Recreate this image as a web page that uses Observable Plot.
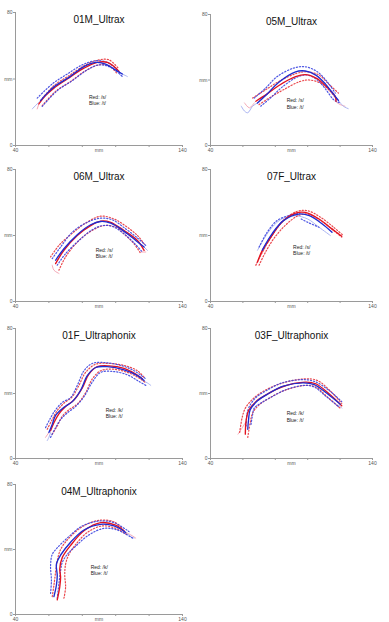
<!DOCTYPE html>
<html>
<head>
<meta charset="utf-8">
<script src="https://cdn.jsdelivr.net/npm/d3@7"></script>
<script src="https://cdn.jsdelivr.net/npm/@observablehq/plot@0.6"></script>
<style>
  html, body { margin: 0; padding: 0; background: #fff; }
  #wrap { position: relative; width: 389px; height: 622px; overflow: hidden; background: #fff; }
  #wrap > svg { position: absolute; }
</style>
</head>
<body>
<div id="wrap"></div>
<script>
// ---------- DATA ----------
const titles = ["01M_Ultrax", "05M_Ultrax", "06M_Ultrax", "07F_Ultrax", "01F_Ultraphonix", "03F_Ultraphonix", "04M_Ultraphonix"];
const legendRed = ["Red: /s/", "Red: /s/", "Red: /s/", "Red: /s/", "Red: /k/", "Red: /k/", "Red: /k/"];
const legendBlue = ["Blue: /t/", "Blue: /t/", "Blue: /t/", "Blue: /t/", "Blue: /t/", "Blue: /t/", "Blue: /t/"];
const legendX = [84, 87, 88, 91, 94, 87, 85];
const legendY = [29, 27.5, 31.3, 33, 29.6, 27.6, 29];
const xTicks = [40, 60, 80, 100, 120, 140];
const yTicks = [0, 40, 80];

// Panel 1: 01M_Ultrax
const p1RedMean = [[54,25],[58,30],[63,34.5],[71,40],[81,46.5],[89,50],[95,50],[99,47.5],[102,44.5]];
const p1RedUp   = [[55,27],[63,36],[72,42],[82,48.5],[90,51.5],[96,51.5],[102,46]];
const p1RedLo   = [[56,24],[64,32.5],[73,38.5],[82,45],[90,48.5],[96,48],[101,43]];
const p1BlueMean= [[55,27],[59,31.5],[64,36],[72,41],[81,47.5],[88,50],[94,49],[99,46],[104,43]];
const p1BlueUp  = [[53,28.5],[62,37],[71,43],[80,48.5],[88,51],[95,50],[101,45.5]];
const p1BlueLo  = [[56,23.5],[65,33],[74,39],[83,45.5],[90,48.5],[97,47],[104,41.5]];
const p1FaintRed = [[53,22,0],[54,25,0]];
const p1FaintBlue = [[50,22,0],[53,25,0],[55,27,0],[102,44,1],[105,42.5,1],[107,41.5,1]];

// Panel 2: 05M_Ultrax
const p2RedMean = [[68,27],[75,31.5],[82,36.5],[92.5,42],[98.5,43.3],[105.5,41],[111.5,36],[117,30],[117.5,27]];
const p2RedUp   = [[66,29],[74,34],[82,39],[93,44],[100,45],[107,43],[113,37.5],[119,32]];
const p2RedLo   = [[70,25],[77,29.5],[85,34],[95,39],[101,40],[108,38],[114,33],[118,28]];
const p2BlueMean= [[69,26],[75,31.5],[82,38.5],[92.5,45],[98.5,45.5],[105,43],[111,37.5],[115,32.5],[119,27.5]];
const p2BlueUp  = [[67,29],[74,35],[81,42],[92,47.5],[99,48],[106,45],[112,39],[117,32]];
const p2BlueLo  = [[71,24],[77,29],[84,35.5],[94,42],[100,43],[106,40],[111,34.5],[116,28],[120,26]];
const p2FaintRed = [[61,26,0],[64,23,0],[67,26,0],[117,27,1],[120,25,1],[123,24,1]];
const p2FaintBlue = [[59,24,0],[61,21,0],[63,20,0],[66,24,0],[69,26,0],[119,27.5,1],[122,24,1],[125,22.5,1]];

// Panel 3: 06M_Ultrax
const p3RedMean = [[64,23],[69,31],[77,40],[85,46],[91,48.7],[97,48],[105,43],[113,37],[117,31]];
const p3RedUp   = [[61,27],[66,34],[73,40.5],[82,47.5],[91,51.7],[99,50],[107,45],[113,40],[117,35]];
const p3RedLo   = [[66,19],[70,27],[77,36],[85,42.5],[93,46],[100,45],[106,40],[111,35],[115,29]];
const p3BlueMean= [[64,25],[69,32],[77,40.5],[85,46.5],[91,48.5],[97,47.5],[105,42.5],[112,37],[117,33]];
const p3BlueUp  = [[62,26],[67,33],[74,42],[83,48],[91,50.5],[98,49.5],[106,44],[113,38.5],[118,34]];
const p3BlueLo  = [[65,22],[70,29],[78,37],[86,43.5],[92,46],[98,45.5],[105,41],[111,35.5],[116,30]];
const p3FaintRed = [[62,22,0],[63,19,0],[66,17,0],[115,30,1],[118,30,1]];
const p3FaintBlue = [[117,33,0],[119,31,0]];

// Panel 4: 07F_Ultrax
const p4RedMean = [[69,24],[72,31],[76,37],[84,48],[92.5,53.5],[98.5,54],[107,50],[115,44],[121,39.5]];
const p4RedUp   = [[68,22],[72,30],[78,40],[85,49],[93,54.5],[100,55],[108,51],[116,45],[122,40]];
const p4RedLo   = [[70,22],[74,30],[79,38],[86,46],[94,52],[100,53],[108,49],[116,43],[121,39]];
const p4BlueMean= [[72,31],[73,33],[78,41],[85,49],[94.5,53],[101,52],[109,47],[115,42]];
const p4BlueUp  = [[70,33],[75,42],[81,49],[88,52],[95,53.5]];
const p4BlueLo  = [[96,50],[100,48],[107,45]];
const p4FaintRed = [[68,22,0],[70,26,0],[74,33,0]];
const p4FaintBlue = [[69,31,0],[73,38,0],[78,45,0],[84,50,0],[92,52,0],[100,50,0],[107,45,0],[114,40,0]];

// Panel 5: 01F_Ultraphonix
const p5RedMean = [[61,17],[63,22],[66,27.5],[70,32],[75,36],[80,43.5],[84,52],[89,56.5],[96,57],[105,55.5],[112,52],[116,49]];
const p5RedUp   = [[59,18],[62,24],[65,29.5],[69,34],[74,38],[78,45],[82,53],[88,58],[96,58.5],[106,57],[113,54],[117,50]];
const p5RedLo   = [[62,15],[65,20],[68,26],[72,30],[77,33.5],[82,40.5],[86,49],[91,54],[98,55],[107,53],[114,49.5],[118,46.5]];
const p5BlueMean= [[60,16],[62,21],[64,26.5],[69,31.5],[74,35],[79,42],[83,51],[88,56],[95,56.5],[105,54.5],[113,51],[117,48]];
const p5BlueUp  = [[58,19],[61,25],[64,30],[68,34.5],[73,37.5],[77,45],[81,54],[86,58.5],[94,59],[104,57],[111,54],[118,49]];
const p5BlueLo  = [[61,13],[64,19],[67,24],[71,28],[76,32],[81,38],[86,47],[91,53],[99,53.5],[107,51.5],[113,48],[118,45]];
const p5FaintRed = [[58,13,0],[60,16,0]];
const p5FaintBlue = [[59,11,0],[60,13,0],[61,16,0],[116,48,1],[119,46.5,1],[121,45,1]];

// Panel 6: 03F_Ultraphonix
const p6RedMean = [[61.5,15],[62,23.5],[63.5,29.5],[68,35],[74,39],[84,44],[98.5,47],[105,46],[113,40],[121,32.5]];
const p6RedUp   = [[58,16],[59.5,25],[61.5,31],[66,36.5],[72,41],[83,46],[98,49],[106,48],[114,41.5],[121,34]];
const p6RedLo   = [[63,13],[64.5,22],[66,28],[70,33],[76,37],[86,42],[99,45],[105,44],[112,38],[120,31]];
const p6BlueMean= [[63,18],[63.5,24],[64.5,30],[69,35.5],[75,39.5],[85,44.5],[97,46.5],[104,45.5],[112,40],[120,33.5]];
const p6BlueUp  = [[62,20],[62.5,27],[64,32],[68,37.5],[74,41.5],[84,46.5],[96,48.5],[104,47.5],[113,42],[121,35]];
const p6BlueLo  = [[65,21],[66,27],[67,31],[71,34],[77,37.5],[87,42.5],[98,45],[104,44],[111,38.5],[119,32]];
const p6FaintRed = [[57,15,0],[59,18,0],[61.5,22,0]];
const p6FaintBlue = [[119,33,0],[121,31,0]];

// Panel 7: 04M_Ultraphonix
const p7RedMean = [[65,9],[66.5,17],[67,23],[66.5,28],[68,35],[73,42.5],[81,51.5],[91,56.5],[100,55],[105,51.5]];
const p7RedUp   = [[69,10],[70,17],[69.5,24],[70,31],[72,37],[76,43],[83,50.5],[92,54.5],[100,53],[107,49]];
const p7RedLo   = [[62,11],[63,18],[64,26],[65,33],[67,40],[72,47],[80,54],[90,58],[99,57],[104,53]];
const p7BlueMean= [[63,11],[64.5,18],[65,24],[64.5,31],[67,36.5],[73,44.5],[81,52],[91,55.5],[99,54.5],[106,50.5]];
const p7BlueUp  = [[61,13],[61.5,21],[61,30],[62,37],[65,41],[72,48],[80,54.5],[90,57.5],[99,56.5],[108,51]];
const p7BlueLo  = [[65,10],[66,19],[67,27],[68,32],[71,37],[76,42],[84,49],[93,53],[101,52],[110,47]];
const p7FaintRed = [[105,51,0],[109,49,0],[112,47,0]];
const p7FaintBlue = [[67,37,0],[70,41,0],[74,46,0],[106,50.5,1],[109,48,1],[111,47,1]];

// ---------- ASSEMBLY ----------
const curves = [
  [p1RedMean,p1RedUp,p1RedLo,p1BlueMean,p1BlueUp,p1BlueLo,p1FaintRed,p1FaintBlue],
  [p2RedMean,p2RedUp,p2RedLo,p2BlueMean,p2BlueUp,p2BlueLo,p2FaintRed,p2FaintBlue],
  [p3RedMean,p3RedUp,p3RedLo,p3BlueMean,p3BlueUp,p3BlueLo,p3FaintRed,p3FaintBlue],
  [p4RedMean,p4RedUp,p4RedLo,p4BlueMean,p4BlueUp,p4BlueLo,p4FaintRed,p4FaintBlue],
  [p5RedMean,p5RedUp,p5RedLo,p5BlueMean,p5BlueUp,p5BlueLo,p5FaintRed,p5FaintBlue],
  [p6RedMean,p6RedUp,p6RedLo,p6BlueMean,p6BlueUp,p6BlueLo,p6FaintRed,p6FaintBlue],
  [p7RedMean,p7RedUp,p7RedLo,p7BlueMean,p7BlueUp,p7BlueLo,p7FaintRed,p7FaintBlue]
];

// layout: [left, top, width, height, marginTop, marginBottom]
const layout = [
  [0,   0,   190, 155, 12, 10],
  [195, 0,   185, 155, 14, 10],
  [0,   157, 190, 154, 12, 10],
  [195, 157, 185, 154, 12, 10],
  [0,   316, 190, 152, 12, 10],
  [195, 316, 185, 152, 12, 10],
  [0,   471, 190, 151, 13, 8]
];

const RED = "#e3121f", BLUE = "#1f2bd0";
const RED_DOT = "#e8343a", BLUE_DOT = "#3a44e0";
const RED_FAINT = "#f5aab8", BLUE_FAINT = "#aab4f2";
const wrap = document.getElementById("wrap");

const P = d => d[0], Q = d => d[1];

curves.forEach((c, i) => {
  const [rm, ru, rl, bm, bu, bl, fr, fb] = c;
  const [left, top, w, h, mt, mb] = layout[i];
  const dot = {x: P, y: Q, strokeWidth: 1.2, strokeDasharray: "1.2,1.9", strokeOpacity: 0.9, curve: "catmull-rom"};
  const chart = Plot.plot({
    width: w, height: h,
    marginLeft: 15, marginRight: 8, marginTop: mt, marginBottom: mb,
    x: {domain: [40, 140]},
    y: {domain: [0, 80]},
    style: {fontFamily: "Liberation Sans, Arial, sans-serif", fontSize: "5px", background: "transparent", color: "#555"},
    marks: [
      Plot.ruleX([40], {stroke: "#9a9a9a", strokeWidth: 1}),
      Plot.ruleY([0], {stroke: "#9a9a9a", strokeWidth: 1}),
      Plot.axisX(xTicks, {tickSize: 2, tickPadding: 1, stroke: "#9a9a9a", fill: "#555", fontSize: 5,
        tickFormat: d => (d === 40 || d === 140) ? String(d) : ""}),
      Plot.axisX([90], {tickSize: 0, tickPadding: 3, fill: "#555", fontSize: 5, tickFormat: () => "mm"}),
      Plot.axisY(yTicks, {tickSize: 2, tickPadding: 1, stroke: "#9a9a9a", fill: "#555", fontSize: 5,
        tickFormat: d => d === 40 ? "mm" : String(d)}),
      Plot.line(fr, {x: P, y: Q, z: d => d[2], stroke: RED_FAINT, strokeWidth: 1, curve: "catmull-rom"}),
      Plot.line(fb, {x: P, y: Q, z: d => d[2], stroke: BLUE_FAINT, strokeWidth: 1, curve: "catmull-rom"}),
      Plot.line(ru, {...dot, stroke: RED_DOT}),
      Plot.line(rl, {...dot, stroke: RED_DOT}),
      Plot.line(bu, {...dot, stroke: BLUE_DOT}),
      Plot.line(bl, {...dot, stroke: BLUE_DOT}),
      Plot.line(rm, {x: P, y: Q, stroke: RED, strokeWidth: 1.35, curve: "catmull-rom"}),
      Plot.line(bm, {x: P, y: Q, stroke: BLUE, strokeWidth: 1.35, curve: "catmull-rom"}),
      Plot.text([titles[i]], {frameAnchor: "top", lineAnchor: "top", dy: 3, fontSize: 10, fill: "#111",
        fontFamily: "Liberation Sans, Arial, sans-serif"}),
      Plot.text([legendRed[i] + "\n" + legendBlue[i]], {x: legendX[i], y: legendY[i] + 1.6,
        textAnchor: "start", lineAnchor: "top", fontSize: 5, fill: "#222", lineHeight: 1.25})
    ]
  });
  chart.style.left = left + "px";
  chart.style.top = top + "px";
  wrap.appendChild(chart);
});
</script>
</body>
</html>
